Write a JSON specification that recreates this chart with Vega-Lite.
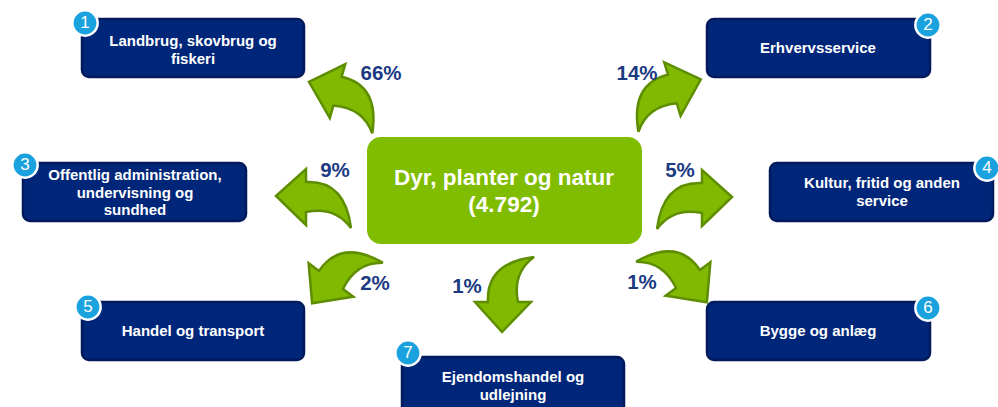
{
  "$schema": "https://vega.github.io/schema/vega-lite/v6.json",
  "width": 998,
  "height": 407,
  "autosize": {"type": "none"},
  "padding": 0,
  "background": "white",
  "config": {"view": {"stroke": null}},
  "datasets": {
    "boxes": [
      {"id": 1, "x": 82, "x2": 304, "y": 19, "y2": 77},
      {"id": 2, "x": 707, "x2": 930, "y": 19, "y2": 77},
      {"id": 3, "x": 23, "x2": 246, "y": 163, "y2": 221},
      {"id": 4, "x": 770, "x2": 993, "y": 163, "y2": 221},
      {"id": 5, "x": 82, "x2": 304, "y": 302, "y2": 360},
      {"id": 6, "x": 707, "x2": 930, "y": 302, "y2": 360},
      {"id": 7, "x": 402, "x2": 624, "y": 357, "y2": 418}
    ],
    "center": [
      {"x": 367, "x2": 642, "y": 137, "y2": 244}
    ],
    "arrows": [
      {"share": "66%", "x": 344, "y": 94, "rot": 16, "dir": "L"},
      {"share": "14%", "x": 666, "y": 92, "rot": -17, "dir": "R"},
      {"share": "9%", "x": 313, "y": 198, "rot": 0, "dir": "L"},
      {"share": "5%", "x": 695, "y": 199, "rot": 0, "dir": "R"},
      {"share": "2%", "x": 336, "y": 275, "rot": -53, "dir": "L"},
      {"share": "1%", "x": 504, "y": 295, "rot": -90, "dir": "L"},
      {"share": "1%", "x": 683, "y": 274, "rot": 53, "dir": "R"}
    ],
    "labels": [
      {"kind": "box", "x": 193, "y": 41, "text": "Landbrug, skovbrug og|fiskeri"},
      {"kind": "box", "x": 818, "y": 48, "text": "Erhvervsservice"},
      {"kind": "box", "x": 135, "y": 175, "text": "Offentlig administration,|undervisning og|sundhed"},
      {"kind": "box", "x": 882, "y": 183, "text": "Kultur, fritid og anden|service"},
      {"kind": "box", "x": 193, "y": 331, "text": "Handel og transport"},
      {"kind": "box", "x": 818, "y": 331, "text": "Bygge og anlæg"},
      {"kind": "box", "x": 513, "y": 377, "text": "Ejendomshandel og|udlejning"},
      {"kind": "center", "x": 504, "y": 178, "text": "Dyr, planter og natur|(4.792)"},
      {"kind": "pct", "x": 381, "y": 74, "text": "66%"},
      {"kind": "pct", "x": 637, "y": 74, "text": "14%"},
      {"kind": "pct", "x": 335, "y": 171, "text": "9%"},
      {"kind": "pct", "x": 680, "y": 171, "text": "5%"},
      {"kind": "pct", "x": 375, "y": 284, "text": "2%"},
      {"kind": "pct", "x": 467, "y": 287, "text": "1%"},
      {"kind": "pct", "x": 642, "y": 283, "text": "1%"}
    ],
    "badges": [
      {"n": "1", "x": 85, "y": 23},
      {"n": "2", "x": 928, "y": 25},
      {"n": "3", "x": 25, "y": 165},
      {"n": "4", "x": 987, "y": 168},
      {"n": "5", "x": 88, "y": 307},
      {"n": "6", "x": 928, "y": 308},
      {"n": "7", "x": 408, "y": 353}
    ]
  },
  "encoding": {
    "x": {"field": "x", "type": "quantitative", "scale": {"domain": [0, 998], "nice": false, "zero": false}, "axis": null},
    "y": {"field": "y", "type": "quantitative", "scale": {"domain": [0, 407], "nice": false, "zero": false, "reverse": true}, "axis": null}
  },
  "layer": [
    {
      "data": {"name": "boxes"},
      "mark": {"type": "rect", "cornerRadius": 7, "fill": "#00267A", "stroke": "#001A5C", "strokeWidth": 2.5},
      "encoding": {
        "x2": {"field": "x2"},
        "y2": {"field": "y2"}
      }
    },
    {
      "data": {"name": "center"},
      "mark": {"type": "rect", "cornerRadius": 14, "fill": "#80BC00"},
      "encoding": {
        "x2": {"field": "x2"},
        "y2": {"field": "y2"}
      }
    },
    {
      "data": {"name": "arrows"},
      "mark": {"type": "point", "filled": true, "fill": "#80B900", "stroke": "#5E8E00", "strokeWidth": 2.5, "size": 6400, "opacity": 1},
      "encoding": {
        "shape": {
          "field": "dir",
          "type": "nominal",
          "scale": {
            "domain": ["L", "R"],
            "range": [
              "M -0.925 -0.05 L -0.175 -0.725 L -0.175 -0.4 Q 0.8 -0.45 0.95 0.75 Q 0.55 0.2 -0.175 0.35 L -0.175 0.675 Z",
              "M 0.925 -0.05 L 0.175 -0.725 L 0.175 -0.4 Q -0.8 -0.45 -0.95 0.75 Q -0.55 0.2 0.175 0.35 L 0.175 0.675 Z"
            ]
          },
          "legend": null
        },
        "angle": {"field": "rot", "type": "quantitative", "scale": null}
      }
    },
    {
      "data": {"name": "labels"},
      "transform": [{"filter": "datum.kind === 'box'"}],
      "mark": {"type": "text", "font": "Liberation Sans", "fontWeight": "bold", "fontSize": 15, "color": "white", "align": "center", "baseline": "middle", "lineBreak": "|", "lineHeight": 17.5},
      "encoding": {"text": {"field": "text"}}
    },
    {
      "data": {"name": "labels"},
      "transform": [{"filter": "datum.kind === 'center'"}],
      "mark": {"type": "text", "font": "Liberation Sans", "fontWeight": "bold", "fontSize": 22.5, "color": "white", "align": "center", "baseline": "middle", "lineBreak": "|", "lineHeight": 27},
      "encoding": {"text": {"field": "text"}}
    },
    {
      "data": {"name": "labels"},
      "transform": [{"filter": "datum.kind === 'pct'"}],
      "mark": {"type": "text", "font": "Liberation Sans", "fontWeight": "bold", "fontSize": 20.5, "color": "#1B3A82", "align": "center", "baseline": "middle"},
      "encoding": {"text": {"field": "text"}}
    },
    {
      "data": {"name": "badges"},
      "mark": {"type": "point", "shape": "circle", "filled": true, "fill": "#19A2DE", "stroke": "white", "strokeWidth": 2.5, "size": 640, "opacity": 1},
      "encoding": {}
    },
    {
      "data": {"name": "badges"},
      "mark": {"type": "text", "font": "Liberation Sans", "fontSize": 17, "color": "white", "align": "center", "baseline": "middle"},
      "encoding": {"text": {"field": "n"}}
    }
  ]
}
